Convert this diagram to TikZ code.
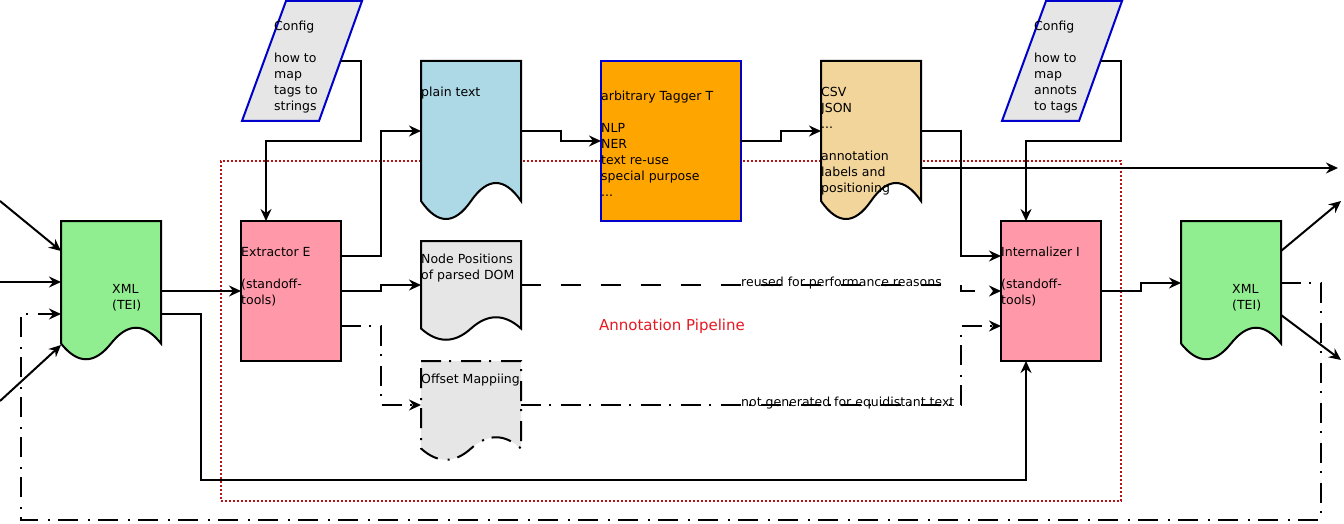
\documentclass[tikz,border=0pt]{standalone}
\usepackage{fontspec}
\setmainfont{DejaVu Sans}
\usetikzlibrary{arrows.meta,calc}
\definecolor{pinkfill}{RGB}{255,153,170}
\definecolor{greenfill}{RGB}{144,238,144}
\definecolor{bluefill}{RGB}{173,216,230}
\definecolor{orangefill}{RGB}{255,165,0}
\definecolor{wheatfill}{RGB}{242,213,155}
\definecolor{grayfill}{RGB}{230,230,230}
\definecolor{bluedraw}{RGB}{0,0,204}
\definecolor{pipered}{RGB}{180,20,20}
\definecolor{labelred}{RGB}{230,25,35}
\newcommand\tl[1]{\begin{tabular}[t]{@{}l@{}}#1\end{tabular}}
\newcommand\drawdoc[2]{\draw[#2] let \p1=(#1.north west), \p2=(#1.south east), \n1={\x2-\x1}, \n3={(\y1-\y2)/4} in
  (\p1) -- (\x2,\y1) -- (\x2,\y2+0.5*\n3)
  .. controls (\x1+0.8333*\n1,\y2+1.1*\n3) and (\x1+0.6667*\n1,\y2+1.1*\n3) .. (\x1+0.5*\n1,\y2+0.5*\n3)
  .. controls (\x1+0.3333*\n1,\y2-0.1*\n3) and (\x1+0.1667*\n1,\y2-0.1*\n3) .. (\x1,\y2+0.5*\n3) -- cycle;}
\newcommand\drawpara[2]{\draw[#2] ([xshift=44pt]#1.north west) -- (#1.north east) -- ([xshift=-43pt]#1.south east) -- (#1.south west) -- cycle;}
\begin{document}
\begin{tikzpicture}[x=1pt,y=-1pt,
  area/.style={anchor=north west, inner sep=0pt, outer sep=0pt, minimum width=#1},
  boxline/.style={draw=black, line width=2pt},
  docline/.style={draw=black, line width=2pt, line join=miter},
  bluebox/.style={draw=bluedraw, line width=2pt},
  txt/.style={anchor=base west, inner sep=0pt, font=\fontsize{12.5}{16}\selectfont},
  conn/.style={line width=2pt, draw=black},
  arr/.style={conn, -{Stealth[length=12pt,width=11pt,inset=4pt]}},
  longdash/.style={dash pattern=on 20pt off 20pt},
  dashdot/.style={dash pattern=on 20pt off 8pt on 2pt off 10pt},
  pipestyle/.style={draw=pipered, line width=2pt, dash pattern=on 2pt off 2pt}]
\fill[white] (0,0) rectangle (1344,524);
\useasboundingbox (0,0) rectangle (1344,524);

% pipeline frame
\node[area=900pt, minimum height=340pt, pipestyle] (pipe) at (221,161) {};
\node[font=\fontsize{15}{18}\selectfont, text=labelred, inner sep=0pt] (pipelab) at (672,326) {Annotation Pipeline};

% shape areas
\node[area=100pt, minimum height=140pt] (xmlL) at (61,221) {};
\node[area=100pt, minimum height=140pt, boxline, fill=pinkfill] (ext) at (241,221) {};
\node[area=120pt, minimum height=120pt] (cfg1) at (242,1) {};
\node[area=100pt, minimum height=160pt] (plain) at (421,61) {};
\node[area=140pt, minimum height=160pt, bluebox, fill=orangefill] (tag) at (601,61) {};
\node[area=100pt, minimum height=160pt] (csv) at (821,61) {};
\node[area=120pt, minimum height=120pt] (cfg2) at (1002,1) {};
\node[area=100pt, minimum height=100pt] (npos) at (421,241) {};
\node[area=100pt, minimum height=100pt] (omap) at (421,361) {};
\node[area=100pt, minimum height=140pt, boxline, fill=pinkfill] (intl) at (1001,221) {};
\node[area=100pt, minimum height=140pt] (xmlR) at (1181,221) {};

\drawdoc{xmlL}{docline, fill=greenfill}
\drawdoc{xmlR}{docline, fill=greenfill}
\drawdoc{plain}{docline, fill=bluefill}
\drawdoc{csv}{docline, fill=wheatfill}
\drawdoc{npos}{docline, fill=grayfill}
\drawdoc{omap}{docline, fill=grayfill, dashdot}
\drawpara{cfg1}{bluebox, fill=grayfill}
\drawpara{cfg2}{bluebox, fill=grayfill}

\coordinate (c1e) at ($(cfg1.north east)!0.5!([xshift=-43pt]cfg1.south east)$);
\coordinate (c2e) at ($(cfg2.north east)!0.5!([xshift=-43pt]cfg2.south east)$);

% texts
\node[txt] (tcfg1) at (274,30.5) {\tl{Config\\ \\how to\\map\\tags to\\strings}};
\node[txt] (tcfg2) at (1034,30.5) {\tl{Config\\ \\how to\\map\\annots\\to tags}};
\node[txt] (text) at (241,256.5) {\tl{Extractor E\\ \\(standoff-\\tools)}};
\node[txt] (tintl) at (1001,256.5) {\tl{Internalizer I\\ \\(standoff-\\tools)}};
\node[txt] (tplain) at (421,96.5) {plain text};
\node[txt] (ttag) at (601,101) {\tl{arbitrary Tagger T\\ \\NLP\\NER\\text re-use\\special purpose\\...}};
\node[txt] (tcsv) at (821,96.5) {\tl{CSV\\JSON\\...\\ \\annotation\\labels and\\positioning}};
\node[txt] (tnpos) at (421,263.5) {\tl{Node Positions\\of parsed DOM}};
\node[txt] (tomap) at (421,383.5) {Offset Mappiing};
\node[txt] (txmlL) at (112,293.5) {\tl{XML\\(TEI)}};
\node[txt] (txmlR) at (1232,293.5) {\tl{XML\\(TEI)}};
\node[txt] (lab1) at (741,286.5) {reused for performance reasons};
\node[txt] (lab2) at (741,406) {not generated for equidistant text};

% free ends
\coordinate (in1) at (0,201);
\coordinate (in2) at (0,282);
\coordinate (in4) at (0,401);
\coordinate (out1) at (1341,201);
\coordinate (out2) at (1341,360);
\coordinate (out3) at (1338,168);

% connectors
\draw[arr] (in1) -- (xmlL.west |- 0,251);
\draw[arr] (in2) -- (xmlL.west |- 0,282);
\draw[arr] (in4) -- (xmlL.west |- 0,345);
\draw[arr, dashdot] (xmlR.east |- 0,283) -| (1321,520) -| (21,314) -- (xmlL.west |- 0,314);
\draw[arr] (xmlL.east |- 0,291) -- (ext.west |- 0,291);
\draw[arr] (xmlL.east |- 0,314) -| (201,480) -| ([xshift=-25pt]intl.south);
\draw[arr] (c1e) -| (361,141) -| ([xshift=-25pt]ext.north);
\draw[arr] (ext.east |- 0,256) -| (381,131) -- (plain.west |- 0,131);
\draw[arr] (ext.east |- 0,291) -| (381,285) -- (npos.west |- 0,285);
\draw[arr, dashdot] (ext.east |- 0,326) -| (381,405) -- (omap.west |- 0,405);
\draw[arr] (plain.east |- 0,131) -| (561,141) -- (tag.west |- 0,141);
\draw[arr] (tag.east |- 0,141) -| (781,131) -- (csv.west |- 0,131);
\draw[arr] (csv.east |- 0,131) -| (961,256) -- (intl.west |- 0,256);
\draw[arr] (csv.east |- 0,168) -- (out3);
\draw[arr] (c2e) -| (1121,141) -| ([xshift=-25pt]intl.north);
\draw[arr, longdash] (npos.east |- 0,285) -| (961,291) -- (intl.west |- 0,291);
\draw[arr, dashdot] (omap.east |- 0,405) -| (961,326) -- (intl.west |- 0,326);
\draw[arr] (intl.east |- 0,291) -| (1141,283) -- (xmlR.west |- 0,283);
\draw[arr] (xmlR.east |- 0,251) -- (out1);
\draw[arr] (xmlR.east |- 0,315) -- (out2);
\end{tikzpicture}
\end{document}
